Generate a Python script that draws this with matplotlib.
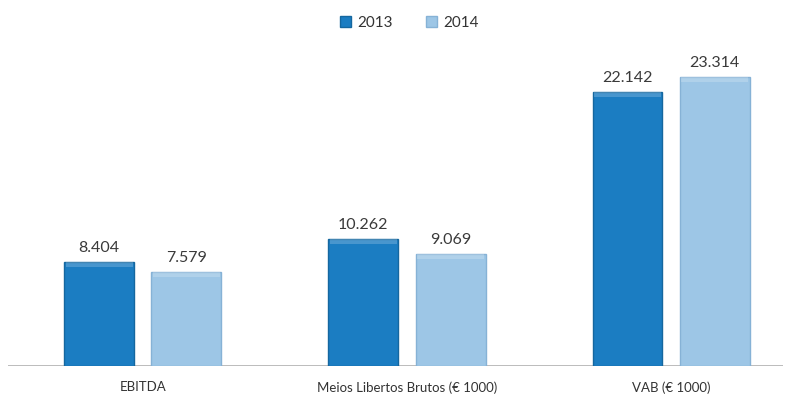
import numpy as np
import matplotlib.pyplot as plt
from matplotlib.patches import Patch

plt.rcParams['font.family'] = ['Lato', 'DejaVu Sans']

categorias = ["EBITDA", "Meios Libertos Brutos (€ 1000)", "VAB (€ 1000)"]
anos = ["2013", "2014"]
v2013 = [8404, 10262, 22142]
v2014 = [7579, 9069, 23314]

cores = ["#1b7dc2", "#9dc6e6"]
bordas = ["#15679f", "#86b2d6"]

fig = plt.figure(figsize=(7.87, 3.98), dpi=100)
ax = fig.add_axes([0.01, 0.0804, 0.985, 0.809])

x = np.arange(len(categorias))
largura = 0.265
desloc = 0.165

def fmt(v):
    return f"{v:,}".replace(",", ".")

for i, (serie, cor, borda) in enumerate(zip([v2013, v2014], cores, bordas)):
    pos = x + (-desloc if i == 0 else desloc)
    barras = ax.bar(pos, serie, width=largura, color=cor, edgecolor=borda,
                    linewidth=1.0, zorder=2)
    for b, v in zip(barras, serie):
        # faixa mais clara no topo da barra (efeito de relevo)
        ax.bar(b.get_x() + b.get_width() / 2, 400, bottom=v - 400,
               width=largura * 0.96, color="white", alpha=0.2, linewidth=0, zorder=3)
        ax.text(b.get_x() + b.get_width() / 2, v + 550, fmt(v),
                ha="center", va="bottom", fontsize=11.5, color="#3a3a3a")

ax.set_xlim(-0.511, 2.424)
ax.set_ylim(0, 26000)
ax.axhline(0, color="#b0b0b0", linewidth=1.2, zorder=1)
for s in ax.spines.values():
    s.set_visible(False)
ax.set_yticks([])
ax.set_xticks(x)
ax.set_xticklabels(categorias, fontsize=9.5, color="#333333")
ax.tick_params(axis="x", length=0, pad=11)

handles = [Patch(facecolor=c, edgecolor=b) for c, b in zip(cores, bordas)]
fig.legend(handles, anos, loc="upper center", bbox_to_anchor=(0.52, 0.995), ncol=2,
           frameon=False, fontsize=11, handlelength=0.7, handleheight=0.7,
           handletextpad=0.4, columnspacing=2.2, labelcolor="#333333")

fig.savefig("out.png", dpi=100)
